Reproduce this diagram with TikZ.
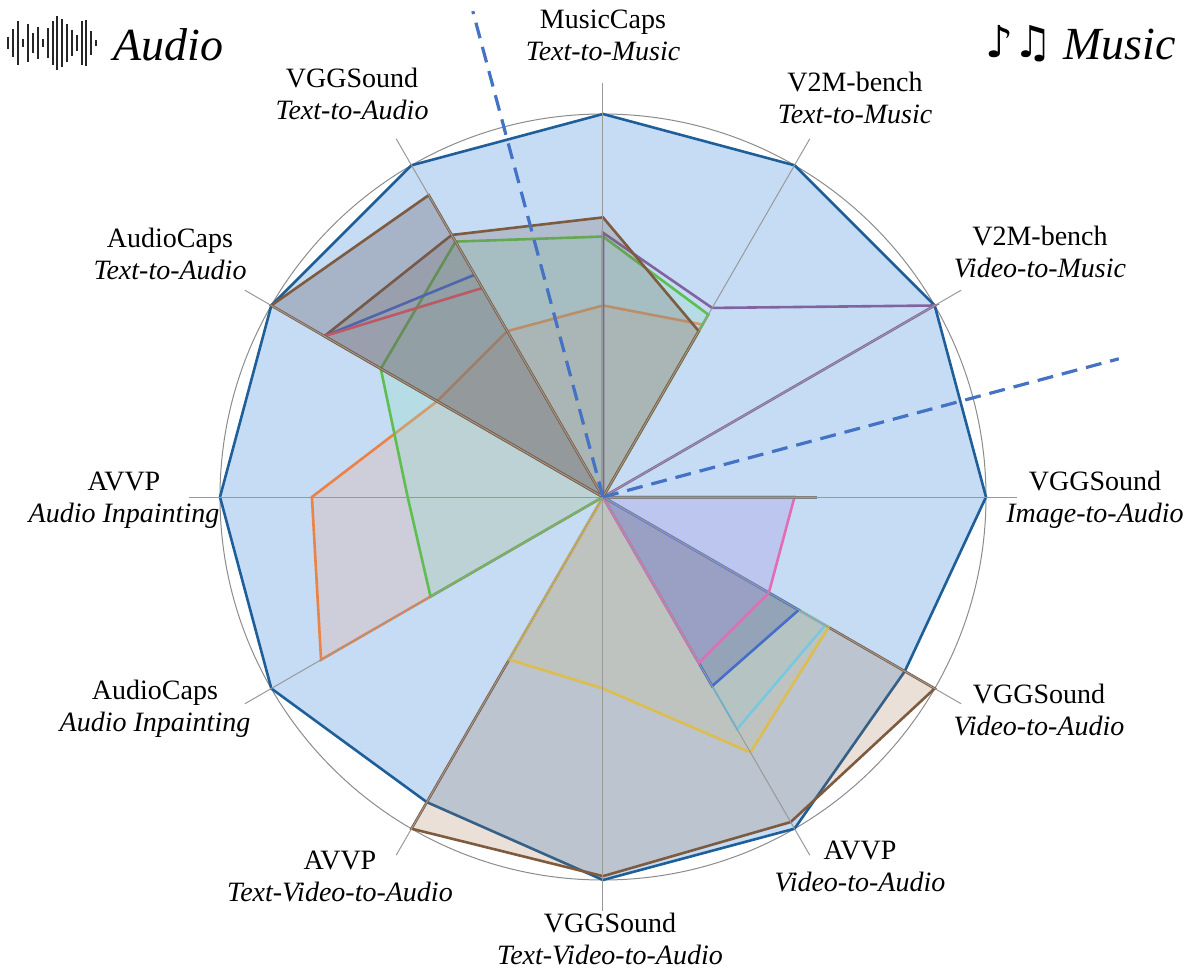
\documentclass[tikz,border=0pt]{standalone}
\usepackage{fontspec}
\setmainfont{Liberation Serif}
\newfontfamily\symf{DejaVu Sans}
\newcommand\RR{383}
\newcommand\poly[2]{%
 \def\pts{}%
 \foreach \a/\v [count=\i] in {#2} {\xdef\pts{\pts\ifnum\i>1 -- \fi(\a:{\v*\RR pt})}}%
 \path[#1] \pts -- cycle;}
\begin{document}
\begin{tikzpicture}[x=1pt,y=1pt,
  sline/.style={line width=2.6pt, line join=miter},
  lab/.style={font=\fontsize{28}{32}\selectfont, align=center, inner sep=0},
  axis/.style={draw=gray!80, line width=1pt},
  grid/.style={draw=gray!35, line width=0.8pt}]
\useasboundingbox (-603,-481) rectangle (597,497);
% grid
\foreach \f in {0.2,0.4,0.6,0.8} \draw[grid] (0,0) circle ({\f*\RR});
\draw[draw=gray!90, line width=1pt] (0,0) circle (\RR);
% series
\poly{sline, draw={rgb,255:red,31;green,95;blue,153}, fill={rgb,255:red,197;green,220;blue,244}}{90/1,60/1,30/1,0/1,-30/.91,-60/1,-90/1,-120/.92,-150/1,180/1,150/1,120/1}
\poly{sline, draw={rgb,255:red,126;green,91;blue,62}, fill={rgb,255:red,150;green,100;blue,60}, fill opacity=0.2}{-30/1,-60/.98,-90/.99,-120/1,0/0}
\poly{sline, draw={rgb,255:red,220;green,190;blue,80}, fill={rgb,255:red,220;green,190;blue,80}, fill opacity=0.12}{-30/.68,-60/.77,-90/.5,-120/.49,0/0}
\poly{sline, draw={rgb,255:red,120;green,200;blue,225}, fill={rgb,255:red,120;green,200;blue,225}, fill opacity=0.12}{-30/.67,-60/.70,0/0}
\poly{sline, draw={rgb,255:red,70;green,110;blue,200}, fill={rgb,255:red,70;green,90;blue,160}, fill opacity=0.3}{-30/.59,-60/.57,0/0}
\poly{sline, draw={rgb,255:red,225;green,110;blue,180}, fill={rgb,255:red,170;green,150;blue,225}, fill opacity=0.3}{0/.5,-30/.5,-60/.5,0/0}
\draw[line width=3pt, gray] (0,0) -- (0:{.56*\RR});
\poly{sline, draw={rgb,255:red,235;green,130;blue,70}, fill={rgb,255:red,220;green,180;blue,170}, fill opacity=0.35}{90/.5,60/.52,0/0,-150/.85,180/.76,150/.5,120/.5}
\poly{sline, draw={rgb,255:red,95;green,190;blue,80}, fill={rgb,255:red,150;green,220;blue,200}, fill opacity=0.3}{90/.68,60/.55,0/0,-150/.52,180/.51,150/.67,120/.77}
\poly{sline, draw={rgb,255:red,128;green,100;blue,160}}{90/.69,60/.57,30/1,0/0}
\poly{sline, draw={rgb,255:red,126;green,91;blue,62}, fill={rgb,255:red,120;green,100;blue,90}, fill opacity=0.25}{90/.73,60/.5,0/0,150/.84,120/.79}
\draw[sline, draw={rgb,255:red,70;green,110;blue,200}] (150:{.84*\RR}) -- (120:{.67*\RR});
\draw[sline, draw={rgb,255:red,225;green,90;blue,100}] (150:{.84*\RR}) -- (120:{.63*\RR});
\poly{sline, draw={rgb,255:red,126;green,91;blue,62}, fill={rgb,255:red,100;green,90;blue,100}, fill opacity=0.3}{0/0,150/1,120/.91}
% axes
\foreach \a in {90,60,...,-240} \draw[axis] (0,0) -- (\a:{1.08*\RR});
% dashed
\draw[line width=3.2pt, dash pattern=on 16pt off 9pt, draw={rgb,255:red,68;green,114;blue,196}] (0,0) -- (105:503) (0,0) -- (15:534);
% labels
\node[lab] (l1) at (0,462) {MusicCaps\\\itshape Text-to-Music};
\node[lab] (l2) at (252,399) {V2M-bench\\\itshape Text-to-Music};
\node[lab] (l3) at (437,245) {V2M-bench\\\itshape Video-to-Music};
\node[lab] (l4) at (492,-3) {VGGSound\\\itshape Image-to-Audio};
\node[lab] (l5) at (436,-213) {VGGSound\\\itshape Video-to-Audio};
\node[lab] (l6) at (257,-369) {AVVP\\\itshape Video-to-Audio};
\node[lab] (l7) at (7,-442) {VGGSound\\\itshape Text-Video-to-Audio};
\node[lab] (l8) at (-263,-379) {AVVP\\\itshape Text-Video-to-Audio};
\node[lab] (l9) at (-448,-212) {AudioCaps\\\itshape Audio Inpainting};
\node[lab] (l10) at (-479,-3) {AVVP\\\itshape Audio Inpainting};
\node[lab] (l11) at (-433,243) {AudioCaps\\\itshape Text-to-Audio};
\node[lab] (l12) at (-251,403) {VGGSound\\\itshape Text-to-Audio};
% titles
\foreach \x/\h in {8/6,13/14,18/22,23/4,28/19,33/10,38/16,43/4,48/15,53/22,57/27,62/24,67/19,72/13,77/8,82/22,86/23,91/12,96/3}
  \draw[line width=2.4pt, black!85] ({\x-603},{454+\h}) -- ({\x-603},{454-\h});
\node[lab, font=\fontsize{46}{50}\selectfont\itshape, anchor=west] (ta) at (-490,452) {Audio};
\node[lab, font=\fontsize{44}{48}\selectfont\symf\bfseries, anchor=east] (tn) at (450,453) {♪♫};
\node[lab, font=\fontsize{46}{50}\selectfont\itshape, anchor=west] (tm) at (460,452) {Music};
\end{tikzpicture}
\end{document}
